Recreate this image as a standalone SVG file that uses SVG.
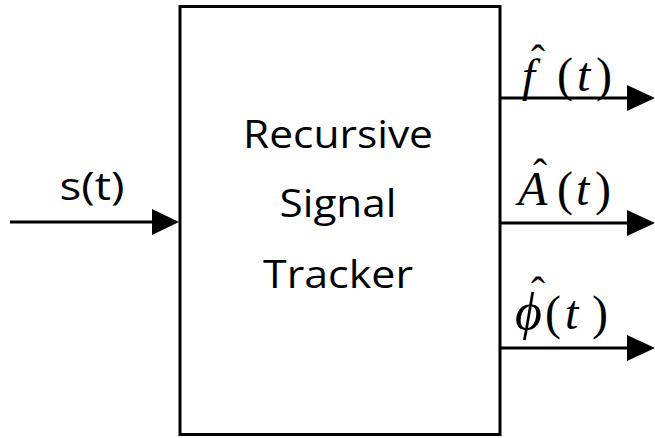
<svg xmlns="http://www.w3.org/2000/svg" width="655" height="438" viewBox="0 0 655 438">
  <style>
    .box { fill: #ffffff; stroke: #000000; stroke-width: 3; }
    .wire { stroke: #000000; stroke-width: 3; fill: none; }
    .head { fill: #000000; }
    .label { font-family: "Open Sans", "Liberation Sans", sans-serif; font-size: 39px; fill: #000000; }
    .math { font-family: "Liberation Serif", "Times New Roman", serif; font-size: 48px; fill: #000000; }
    .mi { font-style: italic; }
    .hat { font-family: "Liberation Serif", "Times New Roman", serif; font-size: 42px; fill: #000000; }
  </style>
  <rect width="655" height="438" fill="#ffffff"/>

  <g id="connectors">
    <!-- input s(t) -->
    <line class="wire" x1="10" y1="222" x2="155" y2="222"/>
    <polygon class="head" points="152,209 179,222 152,235"/>
    <!-- outputs -->
    <line class="wire" x1="500" y1="98" x2="630" y2="98"/>
    <polygon class="head" points="627,85 655,98 627,111"/>
    <line class="wire" x1="500" y1="223" x2="630" y2="223"/>
    <polygon class="head" points="627,210 655,223 627,236"/>
    <line class="wire" x1="500" y1="348" x2="630" y2="348"/>
    <polygon class="head" points="627,335 655,348 627,361"/>
  </g>

  <g id="tracker">
    <rect class="box" x="180" y="6.5" width="320" height="428"/>
    <text class="label" x="338" y="148" text-anchor="middle" textLength="190" lengthAdjust="spacingAndGlyphs">Recursive</text>
    <text class="label" x="338" y="217" text-anchor="middle" textLength="117" lengthAdjust="spacingAndGlyphs">Signal</text>
    <text class="label" x="338" y="288" text-anchor="middle" textLength="150" lengthAdjust="spacingAndGlyphs">Tracker</text>
  </g>

  <g id="input-label">
    <text class="label" x="92" y="200" text-anchor="middle" font-size="34" textLength="65" lengthAdjust="spacingAndGlyphs">s(t)</text>
  </g>

  <g id="out-frequency">
    <text class="math" y="91"><tspan class="mi" x="522" font-size="47">f</tspan><tspan x="557">(</tspan><tspan class="mi" x="577">t</tspan><tspan x="596">)</tspan></text>
    <text class="hat" x="531" y="74">ˆ</text>
  </g>

  <g id="out-amplitude">
    <text class="math" y="205"><tspan class="mi" x="518">A</tspan><tspan x="557">(</tspan><tspan class="mi" x="576">t</tspan><tspan x="595">)</tspan></text>
    <text class="hat" x="533" y="188">ˆ</text>
  </g>

  <g id="out-phase">
    <text class="math" y="329"><tspan class="mi" x="515" font-size="52">ϕ</tspan><tspan x="545">(</tspan><tspan class="mi" x="565">t</tspan><tspan x="592">)</tspan></text>
    <text class="hat" x="531" y="306">ˆ</text>
  </g>
</svg>
